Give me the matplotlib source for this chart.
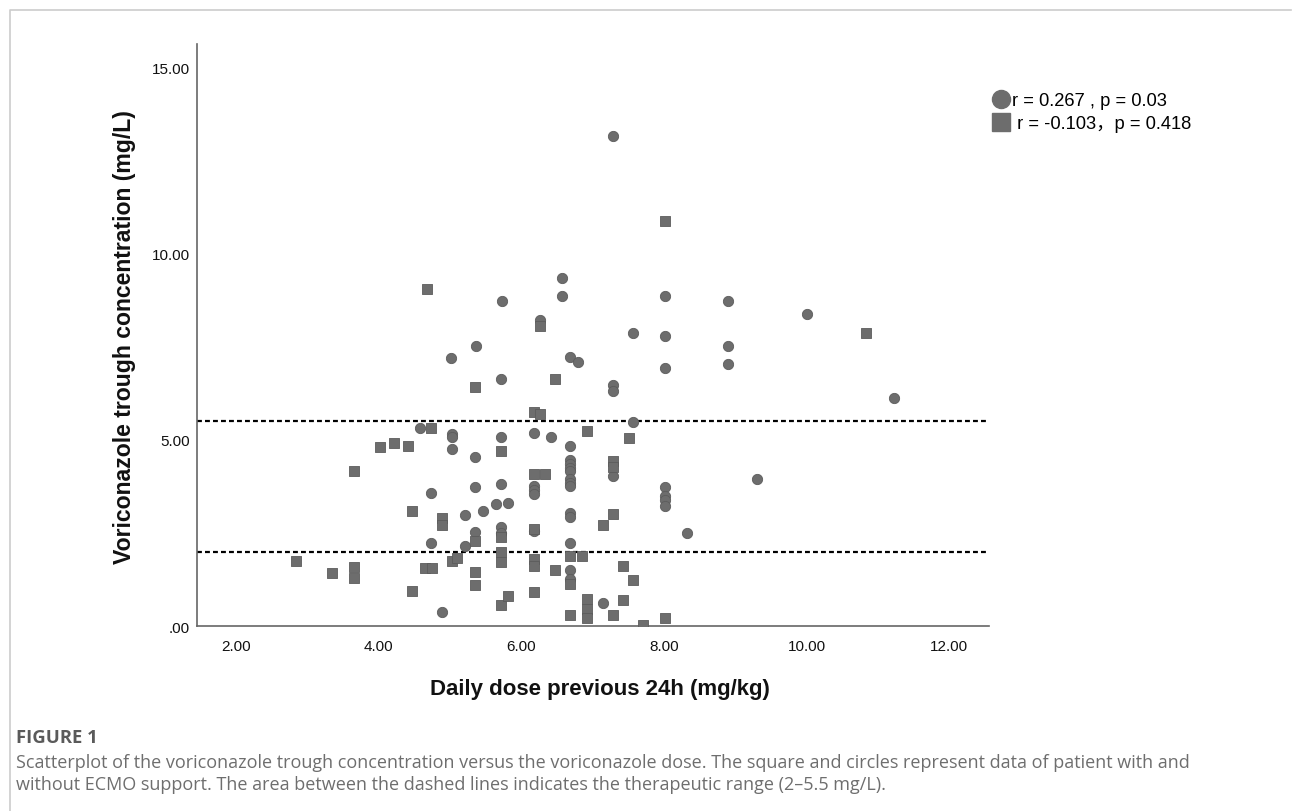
import numpy as np
import matplotlib.pyplot as plt
from matplotlib.lines import Line2D

# Patients without ECMO (circles)
circ_x = [4.58, 5.02, 5.02, 5.02, 5.35, 5.35, 4.73, 5.21, 5.46, 5.35, 4.73, 5.21, 4.89,
          5.72, 7.28, 7.28, 7.56, 5.72, 6.17, 6.41,
          6.68, 6.68, 6.68, 6.68, 6.68, 6.68, 6.68, 6.68, 6.68, 6.68, 6.68, 6.68, 6.68,
          7.28, 8.01, 8.01, 8.01, 8.01, 8.33, 5.65, 5.81,
          5.72, 5.72, 5.72, 6.17, 6.17, 6.17, 6.17, 7.15,
          7.29, 6.57, 6.57, 8.01, 8.90, 5.73, 6.26, 7.56, 8.01, 8.90, 8.90, 8.01,
          5.36, 5.01, 6.68, 6.80, 10.01, 11.22, 9.31]
circ_y = [5.33, 5.15, 5.07, 4.75, 4.53, 3.72, 3.57, 2.99, 3.08, 2.53, 2.22, 2.16, 0.38,
          6.63, 6.47, 6.32, 5.49, 5.08, 5.18, 5.08,
          4.84, 4.45, 4.35, 4.25, 4.15, 3.95, 3.85, 3.75, 3.03, 2.92, 2.22, 1.50, 1.26,
          4.03, 3.72, 3.48, 3.38, 3.22, 2.50, 3.29, 3.30,
          2.65, 2.51, 3.81, 3.77, 3.65, 3.54, 2.55, 0.62,
          13.16, 9.34, 8.85, 8.85, 8.73, 8.73, 8.22, 7.87, 7.79, 7.53, 7.03, 6.94,
          7.52, 7.19, 7.23, 7.08, 8.39, 6.12, 3.95]

# Patients with ECMO (squares)
sq_x = [5.35, 4.73, 4.01, 4.22, 4.41, 3.65, 4.46, 4.89, 4.89, 5.35, 5.02, 5.09, 2.84,
        3.35, 3.65, 3.65, 4.65, 4.74, 5.35, 5.35, 4.46,
        6.47, 6.17, 6.26, 6.92, 7.51, 5.72, 6.68, 6.85, 6.68, 6.68, 7.28, 7.28, 7.28, 7.15,
        5.72, 5.72, 5.72, 5.72, 5.81, 6.17, 6.33, 6.17, 6.17, 6.17, 6.17, 6.47, 7.42, 7.56,
        7.42, 7.28, 6.92, 6.92, 6.92, 7.70, 8.01,
        8.01, 4.67, 6.26, 10.83]
sq_y = [6.43, 5.33, 4.82, 4.91, 4.84, 4.17, 3.10, 2.90, 2.72, 2.29, 1.75, 1.82, 1.75,
        1.42, 1.58, 1.28, 1.56, 1.56, 1.44, 1.10, 0.93,
        6.63, 5.74, 5.69, 5.23, 5.04, 4.71, 1.87, 1.87, 1.13, 0.30, 4.42, 4.28, 3.01, 2.71,
        2.38, 1.99, 1.72, 0.56, 0.81, 4.09, 4.09, 2.60, 1.80, 1.60, 0.92, 1.50, 1.60, 1.24,
        0.71, 0.30, 0.72, 0.45, 0.22, 0.03, 0.21,
        10.88, 9.05, 8.05, 7.86]

# therapeutic range
ther_low, ther_high = 2.0, 5.5

xticks = [2, 4, 6, 8, 10, 12]
yticks = [0, 5, 10, 15]

plt.rcParams['font.family'] = ['Liberation Sans', 'DejaVu Sans']

fig = plt.figure(figsize=(12.92, 8.12), dpi=100)
ax = fig.add_axes([0.1525, 0.2278, 0.613, 0.7168])

mcol = '#6d6d6d'
ax.scatter(circ_x, circ_y, marker='o', s=55, c=mcol, edgecolors='#5c5c5c', linewidths=0.6,
           zorder=3)
ax.scatter(sq_x, sq_y, marker='s', s=55, c=mcol, edgecolors='#5c5c5c', linewidths=0.6,
           zorder=3)

ax.axhline(ther_high, color='black', lw=1.6, ls=(0, (2.2, 1.4)), zorder=2)
ax.axhline(ther_low, color='black', lw=1.6, ls=(0, (2.2, 1.4)), zorder=2)

ax.set_xlim(1.45, 12.56)
ax.set_ylim(0, 15.63)
ax.set_xticks(xticks)
ax.set_yticks(yticks)
ax.set_xticklabels(['%.2f' % v for v in xticks])
ax.set_yticklabels(['.00' if v == 0 else '%.2f' % v for v in yticks])
ax.tick_params(length=0, labelsize=11, colors='#111111')
ax.tick_params(axis='x', pad=9)
ax.tick_params(axis='y', pad=5)

for s in ['top', 'right']:
    ax.spines[s].set_visible(False)
for s in ['left', 'bottom']:
    ax.spines[s].set_color('#666666')
    ax.spines[s].set_linewidth(1.2)

fig.text(600 / 1292, 1 - 690 / 812, 'Daily dose previous 24h (mg/kg)', fontsize=16,
         fontweight='bold', ha='center', va='center', color='#111111')
fig.text(125 / 1292, 1 - 337 / 812, 'Voriconazole trough concentration (mg/L)', fontsize=16.6,
         fontweight='bold', ha='center', va='center', rotation=90, color='#111111')

handles = [Line2D([], [], marker='o', ls='', markersize=13, color=mcol),
           Line2D([], [], marker='s', ls='', markersize=13, color=mcol)]
labels = ['r = 0.267 , p = 0.03', ' r = -0.103，p = 0.418']
fig.legend(handles, labels, loc='upper left', bbox_to_anchor=(990 / 1292, 1 - 93 / 812),
           frameon=False, handletextpad=0.0, handlelength=1.2, labelspacing=0.35,
           borderaxespad=0, borderpad=0,
           prop=dict(family=['Liberation Sans', 'Noto Sans CJK SC'], size=13.2))

# card frame
fig.add_artist(Line2D([10 / 1292, 10 / 1292, 1291 / 1292], [0, 1 - 11 / 812, 1 - 11 / 812],
                      transform=fig.transFigure, color='#cccccc', lw=1.2))

capfont = ['Open Sans', 'DejaVu Sans']
fig.text(16 / 1292, 1 - 738 / 812, 'FIGURE 1', fontsize=13.3, fontweight='bold',
         color='#5a5a5a', va='center', family=capfont)
fig.text(16 / 1292, 1 - 763 / 812,
         'Scatterplot of the voriconazole trough concentration versus the voriconazole dose. '
         'The square and circles represent data of patient with and',
         fontsize=13, color='#6e6e6e', va='center', family=capfont)
fig.text(16 / 1292, 1 - 785 / 812,
         'without ECMO support. The area between the dashed lines indicates the therapeutic '
         'range (2\u20135.5 mg/L).',
         fontsize=13, color='#6e6e6e', va='center', family=capfont)

fig.savefig('out.png', dpi=100)
